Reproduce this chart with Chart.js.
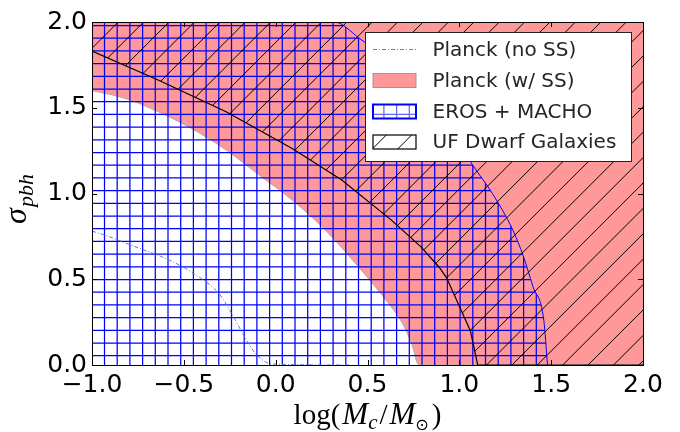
<!DOCTYPE html>
<html>
<head>
<meta charset="utf-8">
<script src="https://cdn.jsdelivr.net/npm/chart.js@4.4.1/dist/chart.umd.min.js"></script>
<style>
  body { margin: 0; background: #fff; }
</style>
</head>
<body>
<canvas id="chart" width="680" height="432"></canvas>
<script>
// Planck (w/ SS): lower edge of the excluded region
const planckSSX = [-1.0, -0.82, -0.64, -0.46, -0.27, -0.09, 0.09, 0.27, 0.45, 0.60, 0.69, 0.74, 0.78, 2.0];
const planckSSY = [1.60, 1.555, 1.477, 1.38, 1.254, 1.108, 0.962, 0.787, 0.573, 0.379, 0.243, 0.126, 0.0, 0.0];

// EROS + MACHO: right edge of the excluded region
const erosX = [-1.0, 0.32, 0.45, 0.60, 0.75, 0.90, 1.00, 1.07, 1.18, 1.29, 1.35, 1.40, 1.46, 1.48];
const erosY = [2.0, 2.0, 1.91, 1.78, 1.62, 1.43, 1.29, 1.17, 1.0, 0.79, 0.63, 0.46, 0.26, 0.0];

// UF dwarf galaxies: lower edge of the excluded region
const ufX = [-1.0, -0.64, -0.27, 0.09, 0.36, 0.63, 0.79, 0.89, 0.93, 1.06, 1.10, 2.0];
const ufY = [1.83, 1.662, 1.477, 1.263, 1.079, 0.845, 0.69, 0.57, 0.51, 0.20, 0.0, 0.0];

// Planck (no SS) bound
const planckNoSSX = [-1.0, -0.96, -0.78, -0.56, -0.42, -0.31, -0.24, -0.18, -0.11, -0.02, 0.4];
const planckNoSSY = [0.78, 0.768, 0.696, 0.602, 0.515, 0.418, 0.301, 0.185, 0.068, 0.006, 0.0];

const xTickValues = [-1.0, -0.5, 0.0, 0.5, 1.0, 1.5, 2.0];
const xTickLabels = ['\u22121.0', '\u22120.5', '0.0', '0.5', '1.0', '1.5', '2.0'];
const yTickValues = [0.0, 0.5, 1.0, 1.5, 2.0];
const yTickLabels = ['0.0', '0.5', '1.0', '1.5', '2.0'];

const legendLabels = ['Planck (no SS)', 'Planck (w/ SS)', 'EROS + MACHO', 'UF Dwarf Galaxies'];

const pink = 'rgb(255,153,153)';
const noSSColor = '#5a7dcc';

const canvas = document.getElementById('chart');
const ctx = canvas.getContext('2d');

function toPoints(xs, ys) {
  return xs.map((x, i) => ({ x: x, y: ys[i] }));
}

// blue "+" hatch
function makeGridPattern() {
  const c = document.createElement('canvas');
  c.width = 127; c.height = 127;
  const g = c.getContext('2d');
  g.strokeStyle = '#0000ff';
  g.lineWidth = 1.25;
  for (let k = -1; k <= 10; k++) {
    const vx = 2.9 + 12.7 * k;
    const hy = 0.1 + 12.7 * k;
    g.beginPath(); g.moveTo(vx, 0); g.lineTo(vx, 127); g.stroke();
    g.beginPath(); g.moveTo(0, hy); g.lineTo(127, hy); g.stroke();
  }
  return ctx.createPattern(c, 'repeat');
}

// black "/" hatch
function makeDiagPattern() {
  const c = document.createElement('canvas');
  c.width = 127; c.height = 127;
  const g = c.getContext('2d');
  g.strokeStyle = '#000';
  g.lineWidth = 1;
  for (let k = -2; k <= 12; k++) {
    const s = 13.3 + 25.4 * k;
    g.beginPath(); g.moveTo(s, 0); g.lineTo(s - 127, 127); g.stroke();
  }
  return ctx.createPattern(c, 'repeat');
}

const gridPattern = makeGridPattern();
const diagPattern = makeDiagPattern();

// frame and inward ticks on all four sides
const framePlugin = {
  id: 'frame',
  afterDatasetsDraw(chart) {
    const a = chart.chartArea;
    const c = chart.ctx;
    const xs = chart.scales.x, ys = chart.scales.y;
    c.save();
    c.strokeStyle = '#000';
    c.lineWidth = 1;
    c.beginPath();
    xTickValues.forEach(v => {
      const px = Math.round(xs.getPixelForValue(v)) + 0.5;
      c.moveTo(px, a.bottom); c.lineTo(px, a.bottom - 5);
      c.moveTo(px, a.top); c.lineTo(px, a.top + 5);
    });
    yTickValues.forEach(v => {
      const py = Math.round(ys.getPixelForValue(v)) + 0.5;
      c.moveTo(a.left, py); c.lineTo(a.left + 5, py);
      c.moveTo(a.right, py); c.lineTo(a.right - 5, py);
    });
    c.stroke();
    c.strokeRect(Math.round(a.left) + 0.5, Math.round(a.top) + 0.5,
      Math.round(a.right - a.left), Math.round(a.bottom - a.top));
    c.restore();
  }
};

// legend box in the upper right corner
const legendPlugin = {
  id: 'boxLegend',
  afterDraw(chart) {
    const a = chart.chartArea;
    const c = chart.ctx;
    const bx = a.right - 277.5, by = a.top + 10.5, bw = 266, bh = 129;
    c.save();
    c.fillStyle = '#fff';
    c.fillRect(bx, by, bw, bh);
    c.strokeStyle = '#222';
    c.lineWidth = 1;
    c.strokeRect(bx, by, bw, bh);

    const hx = bx + 7.5, hw = 43, hh = 14;
    const rows = [by + 17, by + 48, by + 79, by + 109.5];

    // Planck (no SS)
    c.strokeStyle = noSSColor;
    c.lineWidth = 1;
    c.setLineDash([4, 2, 1, 2]);
    c.beginPath(); c.moveTo(hx, rows[0]); c.lineTo(hx + hw, rows[0]); c.stroke();
    c.setLineDash([]);

    // Planck (w/ SS)
    c.fillStyle = pink;
    c.fillRect(hx, rows[1] - hh / 2, hw, hh);
    c.strokeStyle = '#999';
    c.strokeRect(hx, rows[1] - hh / 2, hw, hh);

    // EROS + MACHO
    c.fillStyle = gridPattern;
    c.globalAlpha = 0.6;
    c.fillRect(hx, rows[2] - hh / 2, hw, hh);
    c.globalAlpha = 1;
    c.strokeStyle = '#0000ff';
    c.lineWidth = 2;
    c.strokeRect(hx, rows[2] - hh / 2, hw, hh);

    // UF Dwarf Galaxies
    c.fillStyle = diagPattern;
    c.fillRect(hx, rows[3] - hh / 2, hw, hh);
    c.strokeStyle = '#000';
    c.lineWidth = 1.2;
    c.strokeRect(hx, rows[3] - hh / 2, hw, hh);

    c.fillStyle = '#262626';
    c.font = '20px "DejaVu Sans"';
    c.textBaseline = 'middle';
    c.textAlign = 'left';
    legendLabels.forEach((t, i) => c.fillText(t, bx + 67, rows[i] + 1));
    c.restore();
  }
};

// math-style axis titles
function drawRuns(c, runs, x, y) {
  let cx = x;
  runs.forEach(r => {
    c.font = r.font;
    c.fillText(r.text, cx, y + (r.dy || 0));
    cx += c.measureText(r.text).width + (r.gap || 0);
  });
}
function runsWidth(c, runs) {
  let w = 0;
  runs.forEach(r => { c.font = r.font; w += c.measureText(r.text).width + (r.gap || 0); });
  return w;
}

const titlePlugin = {
  id: 'mathTitles',
  afterDraw(chart) {
    const a = chart.chartArea;
    const c = chart.ctx;
    c.save();
    c.fillStyle = '#000';
    c.textBaseline = 'alphabetic';
    c.textAlign = 'left';

    const xRuns = [
      { text: 'log(', font: '29px "Liberation Serif"', gap: 2 },
      { text: 'M', font: 'italic 31px "Liberation Serif"' },
      { text: 'c', font: 'italic 21px "Liberation Serif"', dy: 5, gap: 2 },
      { text: '/', font: '29px "Liberation Serif"', gap: 2 },
      { text: 'M', font: 'italic 31px "Liberation Serif"' },
      { text: '\u2299', font: '16px "DejaVu Sans"', dy: 6, gap: 3 },
      { text: ')', font: '29px "Liberation Serif"' }
    ];
    const cxMid = (a.left + a.right) / 2;
    drawRuns(c, xRuns, cxMid - runsWidth(c, xRuns) / 2, 424);

    const yRuns = [
      { text: '\u03c3', font: 'italic 32px "Liberation Serif"', gap: 1 },
      { text: 'pbh', font: 'italic 22px "Liberation Serif"', dy: 7 }
    ];
    c.translate(26, 199);
    c.rotate(-Math.PI / 2);
    drawRuns(c, yRuns, -runsWidth(c, yRuns) / 2, 0);
    c.restore();
  }
};

const tickFont = { family: 'DejaVu Sans', size: 25 };

new Chart(ctx, {
  type: 'line',
  data: {
    datasets: [
      {
        label: legendLabels[1],
        data: toPoints(planckSSX, planckSSY),
        borderColor: '#aaaaaa',
        borderWidth: 1,
        backgroundColor: pink,
        fill: 'end',
        pointRadius: 0,
        cubicInterpolationMode: 'monotone',
        order: 4
      },
      {
        label: legendLabels[2],
        data: toPoints(erosX, erosY),
        borderColor: '#0000ff',
        borderWidth: 1,
        backgroundColor: gridPattern,
        fill: 'start',
        pointRadius: 0,
        cubicInterpolationMode: 'monotone',
        order: 3
      },
      {
        label: legendLabels[3],
        data: toPoints(ufX, ufY),
        borderColor: '#000',
        borderWidth: 1.2,
        backgroundColor: diagPattern,
        fill: 'end',
        pointRadius: 0,
        tension: 0,
        order: 2
      },
      {
        label: legendLabels[0],
        data: toPoints(planckNoSSX, planckNoSSY),
        borderColor: noSSColor,
        borderWidth: 1,
        borderDash: [4, 2, 1, 2],
        fill: false,
        pointRadius: 0,
        cubicInterpolationMode: 'monotone',
        order: 1
      }
    ]
  },
  options: {
    responsive: false,
    animation: false,
    layout: { padding: { top: 22, right: 37, left: 0, bottom: 0 } },
    plugins: {
      legend: { display: false },
      tooltip: { enabled: false }
    },
    scales: {
      x: {
        type: 'linear',
        min: -1,
        max: 2,
        grid: { display: false, drawTicks: false },
        border: { display: false },
        afterBuildTicks: s => { s.ticks = xTickValues.map(v => ({ value: v })); },
        afterFit: s => { s.height = 67; },
        ticks: {
          font: tickFont,
          color: '#000',
          padding: 5,
          maxRotation: 0,
          callback: v => xTickLabels[xTickValues.indexOf(v)]
        }
      },
      y: {
        type: 'linear',
        min: 0,
        max: 2,
        grid: { display: false, drawTicks: false },
        border: { display: false },
        afterBuildTicks: s => { s.ticks = yTickValues.map(v => ({ value: v })); },
        afterFit: s => { s.width = 92; },
        ticks: {
          font: tickFont,
          color: '#000',
          padding: 5,
          callback: v => yTickLabels[yTickValues.indexOf(v)]
        }
      }
    }
  },
  plugins: [framePlugin, legendPlugin, titlePlugin]
});
</script>
</body>
</html>
